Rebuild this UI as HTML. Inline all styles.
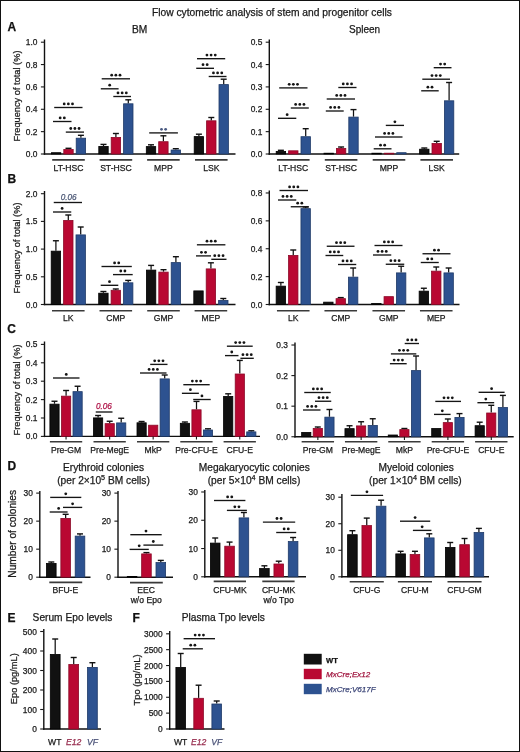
<!DOCTYPE html>
<html><head><meta charset="utf-8"><style>
html,body{margin:0;padding:0;background:#fff;}
.wrap{position:relative;width:520px;height:752px;overflow:hidden;box-sizing:border-box;border:1px solid #111;background:#fff;}
svg{position:absolute;left:-1px;top:-1px;}
text{font-family:"Liberation Sans", sans-serif;stroke-width:0.25px;paint-order:stroke;}
svg{filter:blur(0.3px);}
</style></head><body><div class="wrap">
<svg width="520" height="752" viewBox="0 0 520 752">
<text x="152.00" y="15.60" font-size="10.26" text-anchor="start" fill="#1a1a1a" stroke="#1a1a1a" font-weight="normal" font-style="normal">Flow cytometric analysis of stem and progenitor cells</text>
<text x="7.40" y="31.10" font-size="12" text-anchor="start" fill="#111" stroke="#111" font-weight="bold" font-style="normal">A</text>
<text x="7.60" y="182.50" font-size="12" text-anchor="start" fill="#111" stroke="#111" font-weight="bold" font-style="normal">B</text>
<text x="7.30" y="333.10" font-size="12" text-anchor="start" fill="#111" stroke="#111" font-weight="bold" font-style="normal">C</text>
<text x="7.60" y="469.90" font-size="12" text-anchor="start" fill="#111" stroke="#111" font-weight="bold" font-style="normal">D</text>
<text x="7.60" y="622.30" font-size="12" text-anchor="start" fill="#111" stroke="#111" font-weight="bold" font-style="normal">E</text>
<text x="132.60" y="622.30" font-size="12" text-anchor="start" fill="#111" stroke="#111" font-weight="bold" font-style="normal">F</text>
<text x="139.70" y="33.10" font-size="10.2" text-anchor="middle" fill="#1a1a1a" stroke="#1a1a1a" font-weight="normal" font-style="normal">BM</text>
<text x="364.60" y="33.00" font-size="10.0" text-anchor="middle" fill="#1a1a1a" stroke="#1a1a1a" font-weight="normal" font-style="normal">Spleen</text>
<text x="17.20" y="96.00" font-size="9.25" text-anchor="middle" fill="#1a1a1a" stroke="#1a1a1a" font-weight="normal" font-style="normal" transform="rotate(-90 17.2 96)" dominant-baseline="central">Frequency of total (%)</text>
<line x1="44.50" y1="39.50" x2="44.50" y2="154.70" stroke="#111" stroke-width="1.4"/>
<line x1="43.80" y1="154.00" x2="235.50" y2="154.00" stroke="#111" stroke-width="1.4"/>
<line x1="40.90" y1="42.20" x2="44.50" y2="42.20" stroke="#1a1a1a" stroke-width="1.1"/>
<text x="37.50" y="45.20" font-size="8.4" text-anchor="end" fill="#1a1a1a" stroke="#1a1a1a" font-weight="normal" font-style="normal">1.0</text>
<line x1="40.90" y1="64.56" x2="44.50" y2="64.56" stroke="#1a1a1a" stroke-width="1.1"/>
<text x="37.50" y="67.56" font-size="8.4" text-anchor="end" fill="#1a1a1a" stroke="#1a1a1a" font-weight="normal" font-style="normal">0.8</text>
<line x1="40.90" y1="86.92" x2="44.50" y2="86.92" stroke="#1a1a1a" stroke-width="1.1"/>
<text x="37.50" y="89.92" font-size="8.4" text-anchor="end" fill="#1a1a1a" stroke="#1a1a1a" font-weight="normal" font-style="normal">0.6</text>
<line x1="40.90" y1="109.28" x2="44.50" y2="109.28" stroke="#1a1a1a" stroke-width="1.1"/>
<text x="37.50" y="112.28" font-size="8.4" text-anchor="end" fill="#1a1a1a" stroke="#1a1a1a" font-weight="normal" font-style="normal">0.4</text>
<line x1="40.90" y1="131.64" x2="44.50" y2="131.64" stroke="#1a1a1a" stroke-width="1.1"/>
<text x="37.50" y="134.64" font-size="8.4" text-anchor="end" fill="#1a1a1a" stroke="#1a1a1a" font-weight="normal" font-style="normal">0.2</text>
<line x1="40.90" y1="154.00" x2="44.50" y2="154.00" stroke="#1a1a1a" stroke-width="1.1"/>
<text x="37.50" y="157.00" font-size="8.4" text-anchor="end" fill="#1a1a1a" stroke="#1a1a1a" font-weight="normal" font-style="normal">0.0</text>
<rect x="51.40" y="152.70" width="9.40" height="1.30" fill="#111111" stroke="#000000" stroke-width="0.8"/>
<line x1="68.50" y1="149.00" x2="68.50" y2="148.30" stroke="#111" stroke-width="1.25"/>
<line x1="65.50" y1="148.30" x2="71.50" y2="148.30" stroke="#111" stroke-width="1.4"/>
<rect x="63.80" y="149.40" width="9.40" height="4.60" fill="#b90832" stroke="#8c0a28" stroke-width="0.8"/>
<line x1="80.90" y1="137.80" x2="80.90" y2="135.30" stroke="#111" stroke-width="1.25"/>
<line x1="77.90" y1="135.30" x2="83.90" y2="135.30" stroke="#111" stroke-width="1.4"/>
<rect x="76.20" y="138.20" width="9.40" height="15.80" fill="#2d5290" stroke="#1f3a68" stroke-width="0.8"/>
<line x1="103.50" y1="146.00" x2="103.50" y2="144.40" stroke="#111" stroke-width="1.25"/>
<line x1="100.50" y1="144.40" x2="106.50" y2="144.40" stroke="#111" stroke-width="1.4"/>
<rect x="98.80" y="146.40" width="9.40" height="7.60" fill="#111111" stroke="#000000" stroke-width="0.8"/>
<line x1="115.90" y1="137.00" x2="115.90" y2="133.50" stroke="#111" stroke-width="1.25"/>
<line x1="112.90" y1="133.50" x2="118.90" y2="133.50" stroke="#111" stroke-width="1.4"/>
<rect x="111.20" y="137.40" width="9.40" height="16.60" fill="#b90832" stroke="#8c0a28" stroke-width="0.8"/>
<line x1="128.30" y1="103.40" x2="128.30" y2="99.80" stroke="#111" stroke-width="1.25"/>
<line x1="125.30" y1="99.80" x2="131.30" y2="99.80" stroke="#111" stroke-width="1.4"/>
<rect x="123.60" y="103.80" width="9.40" height="50.20" fill="#2d5290" stroke="#1f3a68" stroke-width="0.8"/>
<line x1="151.00" y1="146.20" x2="151.00" y2="144.80" stroke="#111" stroke-width="1.25"/>
<line x1="148.00" y1="144.80" x2="154.00" y2="144.80" stroke="#111" stroke-width="1.4"/>
<rect x="146.30" y="146.60" width="9.40" height="7.40" fill="#111111" stroke="#000000" stroke-width="0.8"/>
<line x1="163.40" y1="141.30" x2="163.40" y2="135.80" stroke="#111" stroke-width="1.25"/>
<line x1="160.40" y1="135.80" x2="166.40" y2="135.80" stroke="#111" stroke-width="1.4"/>
<rect x="158.70" y="141.70" width="9.40" height="12.30" fill="#b90832" stroke="#8c0a28" stroke-width="0.8"/>
<line x1="175.80" y1="149.60" x2="175.80" y2="148.70" stroke="#111" stroke-width="1.25"/>
<line x1="172.80" y1="148.70" x2="178.80" y2="148.70" stroke="#111" stroke-width="1.4"/>
<rect x="171.10" y="150.00" width="9.40" height="4.00" fill="#2d5290" stroke="#1f3a68" stroke-width="0.8"/>
<line x1="198.90" y1="136.20" x2="198.90" y2="134.20" stroke="#111" stroke-width="1.25"/>
<line x1="195.90" y1="134.20" x2="201.90" y2="134.20" stroke="#111" stroke-width="1.4"/>
<rect x="194.20" y="136.60" width="9.40" height="17.40" fill="#111111" stroke="#000000" stroke-width="0.8"/>
<line x1="211.30" y1="120.40" x2="211.30" y2="117.50" stroke="#111" stroke-width="1.25"/>
<line x1="208.30" y1="117.50" x2="214.30" y2="117.50" stroke="#111" stroke-width="1.4"/>
<rect x="206.60" y="120.80" width="9.40" height="33.20" fill="#b90832" stroke="#8c0a28" stroke-width="0.8"/>
<line x1="223.70" y1="84.20" x2="223.70" y2="79.20" stroke="#111" stroke-width="1.25"/>
<line x1="220.70" y1="79.20" x2="226.70" y2="79.20" stroke="#111" stroke-width="1.4"/>
<rect x="219.00" y="84.60" width="9.40" height="69.40" fill="#2d5290" stroke="#1f3a68" stroke-width="0.8"/>
<line x1="54.20" y1="107.50" x2="82.50" y2="107.50" stroke="#151515" stroke-width="1.35"/>
<circle cx="64.20" cy="103.90" r="1.4" fill="#151515"/>
<circle cx="68.35" cy="103.90" r="1.4" fill="#151515"/>
<circle cx="72.50" cy="103.90" r="1.4" fill="#151515"/>
<line x1="53.00" y1="121.50" x2="71.50" y2="121.50" stroke="#151515" stroke-width="1.35"/>
<circle cx="60.17" cy="117.90" r="1.4" fill="#151515"/>
<circle cx="64.33" cy="117.90" r="1.4" fill="#151515"/>
<line x1="65.80" y1="132.10" x2="84.00" y2="132.10" stroke="#151515" stroke-width="1.35"/>
<circle cx="70.75" cy="128.50" r="1.4" fill="#151515"/>
<circle cx="74.90" cy="128.50" r="1.4" fill="#151515"/>
<circle cx="79.05" cy="128.50" r="1.4" fill="#151515"/>
<line x1="101.70" y1="78.80" x2="130.00" y2="78.80" stroke="#151515" stroke-width="1.35"/>
<circle cx="111.70" cy="75.20" r="1.4" fill="#151515"/>
<circle cx="115.85" cy="75.20" r="1.4" fill="#151515"/>
<circle cx="120.00" cy="75.20" r="1.4" fill="#151515"/>
<line x1="100.80" y1="88.80" x2="118.60" y2="88.80" stroke="#151515" stroke-width="1.35"/>
<circle cx="109.70" cy="85.20" r="1.4" fill="#151515"/>
<line x1="113.30" y1="96.50" x2="131.00" y2="96.50" stroke="#151515" stroke-width="1.35"/>
<circle cx="118.00" cy="92.90" r="1.4" fill="#151515"/>
<circle cx="122.15" cy="92.90" r="1.4" fill="#151515"/>
<circle cx="126.30" cy="92.90" r="1.4" fill="#151515"/>
<line x1="197.00" y1="58.70" x2="225.20" y2="58.70" stroke="#151515" stroke-width="1.35"/>
<circle cx="206.95" cy="55.10" r="1.4" fill="#151515"/>
<circle cx="211.10" cy="55.10" r="1.4" fill="#151515"/>
<circle cx="215.25" cy="55.10" r="1.4" fill="#151515"/>
<line x1="196.20" y1="68.30" x2="214.00" y2="68.30" stroke="#151515" stroke-width="1.35"/>
<circle cx="203.03" cy="64.70" r="1.4" fill="#151515"/>
<circle cx="207.17" cy="64.70" r="1.4" fill="#151515"/>
<line x1="208.70" y1="76.50" x2="226.50" y2="76.50" stroke="#151515" stroke-width="1.35"/>
<circle cx="213.45" cy="72.90" r="1.4" fill="#151515"/>
<circle cx="217.60" cy="72.90" r="1.4" fill="#151515"/>
<circle cx="221.75" cy="72.90" r="1.4" fill="#151515"/>
<line x1="149.20" y1="132.90" x2="177.90" y2="132.90" stroke="#151515" stroke-width="1.35"/>
<circle cx="161.48" cy="129.30" r="1.4" fill="#4a5a82"/>
<circle cx="165.62" cy="129.30" r="1.4" fill="#4a5a82"/>
<line x1="52.20" y1="159.90" x2="84.80" y2="159.90" stroke="#3a3a3a" stroke-width="1.6"/>
<text x="68.50" y="170.90" font-size="8.6" text-anchor="middle" fill="#1a1a1a" stroke="#1a1a1a" font-weight="normal" font-style="normal">LT-HSC</text>
<line x1="99.60" y1="159.90" x2="132.20" y2="159.90" stroke="#3a3a3a" stroke-width="1.6"/>
<text x="115.90" y="170.90" font-size="8.6" text-anchor="middle" fill="#1a1a1a" stroke="#1a1a1a" font-weight="normal" font-style="normal">ST-HSC</text>
<line x1="147.10" y1="159.90" x2="179.70" y2="159.90" stroke="#3a3a3a" stroke-width="1.6"/>
<text x="163.40" y="170.90" font-size="8.6" text-anchor="middle" fill="#1a1a1a" stroke="#1a1a1a" font-weight="normal" font-style="normal">MPP</text>
<line x1="195.00" y1="159.90" x2="227.60" y2="159.90" stroke="#3a3a3a" stroke-width="1.6"/>
<text x="211.30" y="170.90" font-size="8.6" text-anchor="middle" fill="#1a1a1a" stroke="#1a1a1a" font-weight="normal" font-style="normal">LSK</text>
<line x1="269.30" y1="39.50" x2="269.30" y2="154.70" stroke="#111" stroke-width="1.4"/>
<line x1="268.60" y1="154.00" x2="459.20" y2="154.00" stroke="#111" stroke-width="1.4"/>
<line x1="265.70" y1="42.20" x2="269.30" y2="42.20" stroke="#1a1a1a" stroke-width="1.1"/>
<text x="262.30" y="45.20" font-size="8.4" text-anchor="end" fill="#1a1a1a" stroke="#1a1a1a" font-weight="normal" font-style="normal">0.5</text>
<line x1="265.70" y1="64.56" x2="269.30" y2="64.56" stroke="#1a1a1a" stroke-width="1.1"/>
<text x="262.30" y="67.56" font-size="8.4" text-anchor="end" fill="#1a1a1a" stroke="#1a1a1a" font-weight="normal" font-style="normal">0.4</text>
<line x1="265.70" y1="86.92" x2="269.30" y2="86.92" stroke="#1a1a1a" stroke-width="1.1"/>
<text x="262.30" y="89.92" font-size="8.4" text-anchor="end" fill="#1a1a1a" stroke="#1a1a1a" font-weight="normal" font-style="normal">0.3</text>
<line x1="265.70" y1="109.28" x2="269.30" y2="109.28" stroke="#1a1a1a" stroke-width="1.1"/>
<text x="262.30" y="112.28" font-size="8.4" text-anchor="end" fill="#1a1a1a" stroke="#1a1a1a" font-weight="normal" font-style="normal">0.2</text>
<line x1="265.70" y1="131.64" x2="269.30" y2="131.64" stroke="#1a1a1a" stroke-width="1.1"/>
<text x="262.30" y="134.64" font-size="8.4" text-anchor="end" fill="#1a1a1a" stroke="#1a1a1a" font-weight="normal" font-style="normal">0.1</text>
<line x1="265.70" y1="154.00" x2="269.30" y2="154.00" stroke="#1a1a1a" stroke-width="1.1"/>
<text x="262.30" y="157.00" font-size="8.4" text-anchor="end" fill="#1a1a1a" stroke="#1a1a1a" font-weight="normal" font-style="normal">0.0</text>
<line x1="280.90" y1="151.00" x2="280.90" y2="150.30" stroke="#111" stroke-width="1.25"/>
<line x1="277.90" y1="150.30" x2="283.90" y2="150.30" stroke="#111" stroke-width="1.4"/>
<rect x="276.20" y="151.40" width="9.40" height="2.60" fill="#111111" stroke="#000000" stroke-width="0.8"/>
<rect x="288.60" y="150.80" width="9.40" height="3.20" fill="#b90832" stroke="#8c0a28" stroke-width="0.8"/>
<line x1="305.70" y1="136.30" x2="305.70" y2="128.70" stroke="#111" stroke-width="1.25"/>
<line x1="302.70" y1="128.70" x2="308.70" y2="128.70" stroke="#111" stroke-width="1.4"/>
<rect x="301.00" y="136.70" width="9.40" height="17.30" fill="#2d5290" stroke="#1f3a68" stroke-width="0.8"/>
<rect x="324.00" y="153.20" width="9.40" height="0.80" fill="#111111" stroke="#000000" stroke-width="0.8"/>
<line x1="341.10" y1="148.00" x2="341.10" y2="147.00" stroke="#111" stroke-width="1.25"/>
<line x1="338.10" y1="147.00" x2="344.10" y2="147.00" stroke="#111" stroke-width="1.4"/>
<rect x="336.40" y="148.40" width="9.40" height="5.60" fill="#b90832" stroke="#8c0a28" stroke-width="0.8"/>
<line x1="353.50" y1="116.70" x2="353.50" y2="109.60" stroke="#111" stroke-width="1.25"/>
<line x1="350.50" y1="109.60" x2="356.50" y2="109.60" stroke="#111" stroke-width="1.4"/>
<rect x="348.80" y="117.10" width="9.40" height="36.90" fill="#2d5290" stroke="#1f3a68" stroke-width="0.8"/>
<rect x="371.90" y="153.20" width="9.40" height="0.80" fill="#111111" stroke="#000000" stroke-width="0.8"/>
<rect x="384.30" y="153.20" width="9.40" height="0.80" fill="#b90832" stroke="#8c0a28" stroke-width="0.8"/>
<rect x="396.70" y="152.70" width="9.40" height="1.30" fill="#2d5290" stroke="#1f3a68" stroke-width="0.8"/>
<line x1="424.30" y1="148.80" x2="424.30" y2="148.00" stroke="#111" stroke-width="1.25"/>
<line x1="421.30" y1="148.00" x2="427.30" y2="148.00" stroke="#111" stroke-width="1.4"/>
<rect x="419.60" y="149.20" width="9.40" height="4.80" fill="#111111" stroke="#000000" stroke-width="0.8"/>
<line x1="436.70" y1="143.00" x2="436.70" y2="141.30" stroke="#111" stroke-width="1.25"/>
<line x1="433.70" y1="141.30" x2="439.70" y2="141.30" stroke="#111" stroke-width="1.4"/>
<rect x="432.00" y="143.40" width="9.40" height="10.60" fill="#b90832" stroke="#8c0a28" stroke-width="0.8"/>
<line x1="449.10" y1="100.40" x2="449.10" y2="82.50" stroke="#111" stroke-width="1.25"/>
<line x1="446.10" y1="82.50" x2="452.10" y2="82.50" stroke="#111" stroke-width="1.4"/>
<rect x="444.40" y="100.80" width="9.40" height="53.20" fill="#2d5290" stroke="#1f3a68" stroke-width="0.8"/>
<line x1="279.20" y1="87.90" x2="307.50" y2="87.90" stroke="#151515" stroke-width="1.35"/>
<circle cx="289.20" cy="84.30" r="1.4" fill="#151515"/>
<circle cx="293.35" cy="84.30" r="1.4" fill="#151515"/>
<circle cx="297.50" cy="84.30" r="1.4" fill="#151515"/>
<line x1="290.80" y1="108.00" x2="308.80" y2="108.00" stroke="#151515" stroke-width="1.35"/>
<circle cx="295.65" cy="104.40" r="1.4" fill="#151515"/>
<circle cx="299.80" cy="104.40" r="1.4" fill="#151515"/>
<circle cx="303.95" cy="104.40" r="1.4" fill="#151515"/>
<line x1="278.00" y1="118.30" x2="296.30" y2="118.30" stroke="#151515" stroke-width="1.35"/>
<circle cx="287.15" cy="114.70" r="1.4" fill="#151515"/>
<line x1="338.30" y1="87.50" x2="356.50" y2="87.50" stroke="#151515" stroke-width="1.35"/>
<circle cx="343.25" cy="83.90" r="1.4" fill="#151515"/>
<circle cx="347.40" cy="83.90" r="1.4" fill="#151515"/>
<circle cx="351.55" cy="83.90" r="1.4" fill="#151515"/>
<line x1="326.70" y1="99.00" x2="355.00" y2="99.00" stroke="#151515" stroke-width="1.35"/>
<circle cx="336.70" cy="95.40" r="1.4" fill="#151515"/>
<circle cx="340.85" cy="95.40" r="1.4" fill="#151515"/>
<circle cx="345.00" cy="95.40" r="1.4" fill="#151515"/>
<line x1="325.80" y1="111.00" x2="343.70" y2="111.00" stroke="#151515" stroke-width="1.35"/>
<circle cx="330.60" cy="107.40" r="1.4" fill="#151515"/>
<circle cx="334.75" cy="107.40" r="1.4" fill="#151515"/>
<circle cx="338.90" cy="107.40" r="1.4" fill="#151515"/>
<line x1="385.80" y1="125.40" x2="404.00" y2="125.40" stroke="#151515" stroke-width="1.35"/>
<circle cx="394.90" cy="121.80" r="1.4" fill="#151515"/>
<line x1="375.00" y1="137.00" x2="402.50" y2="137.00" stroke="#151515" stroke-width="1.35"/>
<circle cx="384.60" cy="133.40" r="1.4" fill="#151515"/>
<circle cx="388.75" cy="133.40" r="1.4" fill="#151515"/>
<circle cx="392.90" cy="133.40" r="1.4" fill="#151515"/>
<line x1="373.70" y1="148.80" x2="391.50" y2="148.80" stroke="#151515" stroke-width="1.35"/>
<circle cx="380.53" cy="145.20" r="1.4" fill="#151515"/>
<circle cx="384.68" cy="145.20" r="1.4" fill="#151515"/>
<line x1="433.70" y1="67.70" x2="451.50" y2="67.70" stroke="#151515" stroke-width="1.35"/>
<circle cx="440.53" cy="64.10" r="1.4" fill="#151515"/>
<circle cx="444.68" cy="64.10" r="1.4" fill="#151515"/>
<line x1="422.30" y1="79.20" x2="450.00" y2="79.20" stroke="#151515" stroke-width="1.35"/>
<circle cx="432.00" cy="75.60" r="1.4" fill="#151515"/>
<circle cx="436.15" cy="75.60" r="1.4" fill="#151515"/>
<circle cx="440.30" cy="75.60" r="1.4" fill="#151515"/>
<line x1="421.20" y1="90.80" x2="438.70" y2="90.80" stroke="#151515" stroke-width="1.35"/>
<circle cx="427.88" cy="87.20" r="1.4" fill="#151515"/>
<circle cx="432.02" cy="87.20" r="1.4" fill="#151515"/>
<line x1="277.00" y1="159.90" x2="309.60" y2="159.90" stroke="#3a3a3a" stroke-width="1.6"/>
<text x="293.30" y="170.90" font-size="8.6" text-anchor="middle" fill="#1a1a1a" stroke="#1a1a1a" font-weight="normal" font-style="normal">LT-HSC</text>
<line x1="324.80" y1="159.90" x2="357.40" y2="159.90" stroke="#3a3a3a" stroke-width="1.6"/>
<text x="341.10" y="170.90" font-size="8.6" text-anchor="middle" fill="#1a1a1a" stroke="#1a1a1a" font-weight="normal" font-style="normal">ST-HSC</text>
<line x1="372.70" y1="159.90" x2="405.30" y2="159.90" stroke="#3a3a3a" stroke-width="1.6"/>
<text x="389.00" y="170.90" font-size="8.6" text-anchor="middle" fill="#1a1a1a" stroke="#1a1a1a" font-weight="normal" font-style="normal">MPP</text>
<line x1="420.40" y1="159.90" x2="453.00" y2="159.90" stroke="#3a3a3a" stroke-width="1.6"/>
<text x="436.70" y="170.90" font-size="8.6" text-anchor="middle" fill="#1a1a1a" stroke="#1a1a1a" font-weight="normal" font-style="normal">LSK</text>
<text x="17.20" y="248.00" font-size="9.25" text-anchor="middle" fill="#1a1a1a" stroke="#1a1a1a" font-weight="normal" font-style="normal" transform="rotate(-90 17.2 248)" dominant-baseline="central">Frequency of total (%)</text>
<line x1="44.50" y1="191.00" x2="44.50" y2="305.20" stroke="#111" stroke-width="1.4"/>
<line x1="43.80" y1="304.50" x2="235.50" y2="304.50" stroke="#111" stroke-width="1.4"/>
<line x1="40.90" y1="193.70" x2="44.50" y2="193.70" stroke="#1a1a1a" stroke-width="1.1"/>
<text x="37.50" y="196.70" font-size="8.4" text-anchor="end" fill="#1a1a1a" stroke="#1a1a1a" font-weight="normal" font-style="normal">2.0</text>
<line x1="40.90" y1="221.40" x2="44.50" y2="221.40" stroke="#1a1a1a" stroke-width="1.1"/>
<text x="37.50" y="224.40" font-size="8.4" text-anchor="end" fill="#1a1a1a" stroke="#1a1a1a" font-weight="normal" font-style="normal">1.5</text>
<line x1="40.90" y1="249.10" x2="44.50" y2="249.10" stroke="#1a1a1a" stroke-width="1.1"/>
<text x="37.50" y="252.10" font-size="8.4" text-anchor="end" fill="#1a1a1a" stroke="#1a1a1a" font-weight="normal" font-style="normal">1.0</text>
<line x1="40.90" y1="276.80" x2="44.50" y2="276.80" stroke="#1a1a1a" stroke-width="1.1"/>
<text x="37.50" y="279.80" font-size="8.4" text-anchor="end" fill="#1a1a1a" stroke="#1a1a1a" font-weight="normal" font-style="normal">0.5</text>
<line x1="40.90" y1="304.50" x2="44.50" y2="304.50" stroke="#1a1a1a" stroke-width="1.1"/>
<text x="37.50" y="307.50" font-size="8.4" text-anchor="end" fill="#1a1a1a" stroke="#1a1a1a" font-weight="normal" font-style="normal">0.0</text>
<line x1="55.90" y1="250.75" x2="55.90" y2="240.75" stroke="#111" stroke-width="1.25"/>
<line x1="52.90" y1="240.75" x2="58.90" y2="240.75" stroke="#111" stroke-width="1.4"/>
<rect x="51.20" y="251.15" width="9.40" height="53.35" fill="#111111" stroke="#000000" stroke-width="0.8"/>
<line x1="68.30" y1="220.00" x2="68.30" y2="215.00" stroke="#111" stroke-width="1.25"/>
<line x1="65.30" y1="215.00" x2="71.30" y2="215.00" stroke="#111" stroke-width="1.4"/>
<rect x="63.60" y="220.40" width="9.40" height="84.10" fill="#b90832" stroke="#8c0a28" stroke-width="0.8"/>
<line x1="80.70" y1="234.50" x2="80.70" y2="227.00" stroke="#111" stroke-width="1.25"/>
<line x1="77.70" y1="227.00" x2="83.70" y2="227.00" stroke="#111" stroke-width="1.4"/>
<rect x="76.00" y="234.90" width="9.40" height="69.60" fill="#2d5290" stroke="#1f3a68" stroke-width="0.8"/>
<line x1="103.40" y1="292.80" x2="103.40" y2="291.50" stroke="#111" stroke-width="1.25"/>
<line x1="100.40" y1="291.50" x2="106.40" y2="291.50" stroke="#111" stroke-width="1.4"/>
<rect x="98.70" y="293.20" width="9.40" height="11.30" fill="#111111" stroke="#000000" stroke-width="0.8"/>
<line x1="115.80" y1="289.90" x2="115.80" y2="289.00" stroke="#111" stroke-width="1.25"/>
<line x1="112.80" y1="289.00" x2="118.80" y2="289.00" stroke="#111" stroke-width="1.4"/>
<rect x="111.10" y="290.30" width="9.40" height="14.20" fill="#b90832" stroke="#8c0a28" stroke-width="0.8"/>
<line x1="128.20" y1="282.40" x2="128.20" y2="280.40" stroke="#111" stroke-width="1.25"/>
<line x1="125.20" y1="280.40" x2="131.20" y2="280.40" stroke="#111" stroke-width="1.4"/>
<rect x="123.50" y="282.80" width="9.40" height="21.70" fill="#2d5290" stroke="#1f3a68" stroke-width="0.8"/>
<line x1="151.10" y1="269.70" x2="151.10" y2="265.40" stroke="#111" stroke-width="1.25"/>
<line x1="148.10" y1="265.40" x2="154.10" y2="265.40" stroke="#111" stroke-width="1.4"/>
<rect x="146.40" y="270.10" width="9.40" height="34.40" fill="#111111" stroke="#000000" stroke-width="0.8"/>
<line x1="163.50" y1="271.70" x2="163.50" y2="269.70" stroke="#111" stroke-width="1.25"/>
<line x1="160.50" y1="269.70" x2="166.50" y2="269.70" stroke="#111" stroke-width="1.4"/>
<rect x="158.80" y="272.10" width="9.40" height="32.40" fill="#b90832" stroke="#8c0a28" stroke-width="0.8"/>
<line x1="175.90" y1="262.20" x2="175.90" y2="256.70" stroke="#111" stroke-width="1.25"/>
<line x1="172.90" y1="256.70" x2="178.90" y2="256.70" stroke="#111" stroke-width="1.4"/>
<rect x="171.20" y="262.60" width="9.40" height="41.90" fill="#2d5290" stroke="#1f3a68" stroke-width="0.8"/>
<rect x="193.80" y="290.90" width="9.40" height="13.60" fill="#111111" stroke="#000000" stroke-width="0.8"/>
<line x1="210.90" y1="268.50" x2="210.90" y2="262.80" stroke="#111" stroke-width="1.25"/>
<line x1="207.90" y1="262.80" x2="213.90" y2="262.80" stroke="#111" stroke-width="1.4"/>
<rect x="206.20" y="268.90" width="9.40" height="35.60" fill="#b90832" stroke="#8c0a28" stroke-width="0.8"/>
<line x1="223.30" y1="300.00" x2="223.30" y2="298.50" stroke="#111" stroke-width="1.25"/>
<line x1="220.30" y1="298.50" x2="226.30" y2="298.50" stroke="#111" stroke-width="1.4"/>
<rect x="218.60" y="300.40" width="9.40" height="4.10" fill="#2d5290" stroke="#1f3a68" stroke-width="0.8"/>
<line x1="53.75" y1="202.50" x2="82.00" y2="202.50" stroke="#151515" stroke-width="1.35"/>
<text x="68.60" y="199.90" font-size="8.2" text-anchor="middle" fill="#4f5b78" stroke="#4f5b78" font-weight="normal" font-style="italic">0.06</text>
<line x1="53.00" y1="212.00" x2="71.25" y2="212.00" stroke="#151515" stroke-width="1.35"/>
<circle cx="62.12" cy="208.40" r="1.4" fill="#151515"/>
<line x1="101.50" y1="266.50" x2="131.80" y2="266.50" stroke="#151515" stroke-width="1.35"/>
<circle cx="114.58" cy="262.90" r="1.4" fill="#151515"/>
<circle cx="118.73" cy="262.90" r="1.4" fill="#151515"/>
<line x1="113.00" y1="274.60" x2="132.70" y2="274.60" stroke="#151515" stroke-width="1.35"/>
<circle cx="120.77" cy="271.00" r="1.4" fill="#151515"/>
<circle cx="124.92" cy="271.00" r="1.4" fill="#151515"/>
<line x1="100.70" y1="285.30" x2="118.30" y2="285.30" stroke="#151515" stroke-width="1.35"/>
<circle cx="109.50" cy="281.70" r="1.4" fill="#151515"/>
<line x1="196.90" y1="244.80" x2="225.40" y2="244.80" stroke="#151515" stroke-width="1.35"/>
<circle cx="207.00" cy="241.20" r="1.4" fill="#151515"/>
<circle cx="211.15" cy="241.20" r="1.4" fill="#151515"/>
<circle cx="215.30" cy="241.20" r="1.4" fill="#151515"/>
<line x1="196.00" y1="255.90" x2="211.00" y2="255.90" stroke="#151515" stroke-width="1.35"/>
<circle cx="201.43" cy="252.30" r="1.4" fill="#151515"/>
<circle cx="205.57" cy="252.30" r="1.4" fill="#151515"/>
<line x1="211.30" y1="259.30" x2="226.50" y2="259.30" stroke="#151515" stroke-width="1.35"/>
<circle cx="214.75" cy="255.70" r="1.4" fill="#151515"/>
<circle cx="218.90" cy="255.70" r="1.4" fill="#151515"/>
<circle cx="223.05" cy="255.70" r="1.4" fill="#151515"/>
<line x1="52.00" y1="310.70" x2="84.60" y2="310.70" stroke="#3a3a3a" stroke-width="1.6"/>
<text x="68.30" y="321.30" font-size="8.6" text-anchor="middle" fill="#1a1a1a" stroke="#1a1a1a" font-weight="normal" font-style="normal">LK</text>
<line x1="99.50" y1="310.70" x2="132.10" y2="310.70" stroke="#3a3a3a" stroke-width="1.6"/>
<text x="115.80" y="321.30" font-size="8.6" text-anchor="middle" fill="#1a1a1a" stroke="#1a1a1a" font-weight="normal" font-style="normal">CMP</text>
<line x1="147.20" y1="310.70" x2="179.80" y2="310.70" stroke="#3a3a3a" stroke-width="1.6"/>
<text x="163.50" y="321.30" font-size="8.6" text-anchor="middle" fill="#1a1a1a" stroke="#1a1a1a" font-weight="normal" font-style="normal">GMP</text>
<line x1="194.60" y1="310.70" x2="227.20" y2="310.70" stroke="#3a3a3a" stroke-width="1.6"/>
<text x="210.90" y="321.30" font-size="8.6" text-anchor="middle" fill="#1a1a1a" stroke="#1a1a1a" font-weight="normal" font-style="normal">MEP</text>
<line x1="269.30" y1="190.50" x2="269.30" y2="305.20" stroke="#111" stroke-width="1.4"/>
<line x1="268.60" y1="304.50" x2="459.50" y2="304.50" stroke="#111" stroke-width="1.4"/>
<line x1="265.70" y1="192.98" x2="269.30" y2="192.98" stroke="#1a1a1a" stroke-width="1.1"/>
<text x="262.30" y="195.98" font-size="8.4" text-anchor="end" fill="#1a1a1a" stroke="#1a1a1a" font-weight="normal" font-style="normal">0.8</text>
<line x1="265.70" y1="220.86" x2="269.30" y2="220.86" stroke="#1a1a1a" stroke-width="1.1"/>
<text x="262.30" y="223.86" font-size="8.4" text-anchor="end" fill="#1a1a1a" stroke="#1a1a1a" font-weight="normal" font-style="normal">0.6</text>
<line x1="265.70" y1="248.74" x2="269.30" y2="248.74" stroke="#1a1a1a" stroke-width="1.1"/>
<text x="262.30" y="251.74" font-size="8.4" text-anchor="end" fill="#1a1a1a" stroke="#1a1a1a" font-weight="normal" font-style="normal">0.4</text>
<line x1="265.70" y1="276.62" x2="269.30" y2="276.62" stroke="#1a1a1a" stroke-width="1.1"/>
<text x="262.30" y="279.62" font-size="8.4" text-anchor="end" fill="#1a1a1a" stroke="#1a1a1a" font-weight="normal" font-style="normal">0.2</text>
<line x1="265.70" y1="304.50" x2="269.30" y2="304.50" stroke="#1a1a1a" stroke-width="1.1"/>
<text x="262.30" y="307.50" font-size="8.4" text-anchor="end" fill="#1a1a1a" stroke="#1a1a1a" font-weight="normal" font-style="normal">0.0</text>
<line x1="280.85" y1="285.75" x2="280.85" y2="282.50" stroke="#111" stroke-width="1.25"/>
<line x1="277.85" y1="282.50" x2="283.85" y2="282.50" stroke="#111" stroke-width="1.4"/>
<rect x="276.15" y="286.15" width="9.40" height="18.35" fill="#111111" stroke="#000000" stroke-width="0.8"/>
<line x1="293.25" y1="255.00" x2="293.25" y2="250.00" stroke="#111" stroke-width="1.25"/>
<line x1="290.25" y1="250.00" x2="296.25" y2="250.00" stroke="#111" stroke-width="1.4"/>
<rect x="288.55" y="255.40" width="9.40" height="49.10" fill="#b90832" stroke="#8c0a28" stroke-width="0.8"/>
<line x1="305.65" y1="208.25" x2="305.65" y2="207.00" stroke="#111" stroke-width="1.25"/>
<line x1="302.65" y1="207.00" x2="308.65" y2="207.00" stroke="#111" stroke-width="1.4"/>
<rect x="300.95" y="208.65" width="9.40" height="95.85" fill="#2d5290" stroke="#1f3a68" stroke-width="0.8"/>
<rect x="323.65" y="302.15" width="9.40" height="2.35" fill="#111111" stroke="#000000" stroke-width="0.8"/>
<line x1="340.75" y1="298.25" x2="340.75" y2="297.60" stroke="#111" stroke-width="1.25"/>
<line x1="337.75" y1="297.60" x2="343.75" y2="297.60" stroke="#111" stroke-width="1.4"/>
<rect x="336.05" y="298.65" width="9.40" height="5.85" fill="#b90832" stroke="#8c0a28" stroke-width="0.8"/>
<line x1="353.15" y1="276.75" x2="353.15" y2="268.00" stroke="#111" stroke-width="1.25"/>
<line x1="350.15" y1="268.00" x2="356.15" y2="268.00" stroke="#111" stroke-width="1.4"/>
<rect x="348.45" y="277.15" width="9.40" height="27.35" fill="#2d5290" stroke="#1f3a68" stroke-width="0.8"/>
<rect x="371.65" y="303.40" width="9.40" height="1.10" fill="#111111" stroke="#000000" stroke-width="0.8"/>
<rect x="384.05" y="296.65" width="9.40" height="7.85" fill="#b90832" stroke="#8c0a28" stroke-width="0.8"/>
<line x1="401.15" y1="272.50" x2="401.15" y2="266.25" stroke="#111" stroke-width="1.25"/>
<line x1="398.15" y1="266.25" x2="404.15" y2="266.25" stroke="#111" stroke-width="1.4"/>
<rect x="396.45" y="272.90" width="9.40" height="31.60" fill="#2d5290" stroke="#1f3a68" stroke-width="0.8"/>
<line x1="423.85" y1="290.75" x2="423.85" y2="288.25" stroke="#111" stroke-width="1.25"/>
<line x1="420.85" y1="288.25" x2="426.85" y2="288.25" stroke="#111" stroke-width="1.4"/>
<rect x="419.15" y="291.15" width="9.40" height="13.35" fill="#111111" stroke="#000000" stroke-width="0.8"/>
<line x1="436.25" y1="270.75" x2="436.25" y2="267.00" stroke="#111" stroke-width="1.25"/>
<line x1="433.25" y1="267.00" x2="439.25" y2="267.00" stroke="#111" stroke-width="1.4"/>
<rect x="431.55" y="271.15" width="9.40" height="33.35" fill="#b90832" stroke="#8c0a28" stroke-width="0.8"/>
<line x1="448.65" y1="272.50" x2="448.65" y2="268.00" stroke="#111" stroke-width="1.25"/>
<line x1="445.65" y1="268.00" x2="451.65" y2="268.00" stroke="#111" stroke-width="1.4"/>
<rect x="443.95" y="272.90" width="9.40" height="31.60" fill="#2d5290" stroke="#1f3a68" stroke-width="0.8"/>
<line x1="279.50" y1="190.50" x2="308.00" y2="190.50" stroke="#151515" stroke-width="1.35"/>
<circle cx="289.60" cy="186.90" r="1.4" fill="#151515"/>
<circle cx="293.75" cy="186.90" r="1.4" fill="#151515"/>
<circle cx="297.90" cy="186.90" r="1.4" fill="#151515"/>
<line x1="278.00" y1="200.00" x2="296.25" y2="200.00" stroke="#151515" stroke-width="1.35"/>
<circle cx="282.98" cy="196.40" r="1.4" fill="#151515"/>
<circle cx="287.12" cy="196.40" r="1.4" fill="#151515"/>
<circle cx="291.27" cy="196.40" r="1.4" fill="#151515"/>
<line x1="290.75" y1="206.75" x2="308.75" y2="206.75" stroke="#151515" stroke-width="1.35"/>
<circle cx="297.68" cy="203.15" r="1.4" fill="#151515"/>
<circle cx="301.82" cy="203.15" r="1.4" fill="#151515"/>
<line x1="326.75" y1="246.25" x2="354.50" y2="246.25" stroke="#151515" stroke-width="1.35"/>
<circle cx="336.48" cy="242.65" r="1.4" fill="#151515"/>
<circle cx="340.62" cy="242.65" r="1.4" fill="#151515"/>
<circle cx="344.77" cy="242.65" r="1.4" fill="#151515"/>
<line x1="325.50" y1="255.50" x2="343.25" y2="255.50" stroke="#151515" stroke-width="1.35"/>
<circle cx="330.23" cy="251.90" r="1.4" fill="#151515"/>
<circle cx="334.38" cy="251.90" r="1.4" fill="#151515"/>
<circle cx="338.52" cy="251.90" r="1.4" fill="#151515"/>
<line x1="338.00" y1="264.50" x2="356.25" y2="264.50" stroke="#151515" stroke-width="1.35"/>
<circle cx="342.98" cy="260.90" r="1.4" fill="#151515"/>
<circle cx="347.12" cy="260.90" r="1.4" fill="#151515"/>
<circle cx="351.27" cy="260.90" r="1.4" fill="#151515"/>
<line x1="374.50" y1="245.50" x2="402.50" y2="245.50" stroke="#151515" stroke-width="1.35"/>
<circle cx="384.35" cy="241.90" r="1.4" fill="#151515"/>
<circle cx="388.50" cy="241.90" r="1.4" fill="#151515"/>
<circle cx="392.65" cy="241.90" r="1.4" fill="#151515"/>
<line x1="373.00" y1="255.00" x2="391.25" y2="255.00" stroke="#151515" stroke-width="1.35"/>
<circle cx="377.98" cy="251.40" r="1.4" fill="#151515"/>
<circle cx="382.12" cy="251.40" r="1.4" fill="#151515"/>
<circle cx="386.27" cy="251.40" r="1.4" fill="#151515"/>
<line x1="385.75" y1="264.25" x2="404.25" y2="264.25" stroke="#151515" stroke-width="1.35"/>
<circle cx="390.85" cy="260.65" r="1.4" fill="#151515"/>
<circle cx="395.00" cy="260.65" r="1.4" fill="#151515"/>
<circle cx="399.15" cy="260.65" r="1.4" fill="#151515"/>
<line x1="422.50" y1="253.75" x2="450.50" y2="253.75" stroke="#151515" stroke-width="1.35"/>
<circle cx="434.43" cy="250.15" r="1.4" fill="#151515"/>
<circle cx="438.57" cy="250.15" r="1.4" fill="#151515"/>
<line x1="420.75" y1="262.50" x2="438.75" y2="262.50" stroke="#151515" stroke-width="1.35"/>
<circle cx="427.68" cy="258.90" r="1.4" fill="#151515"/>
<circle cx="431.82" cy="258.90" r="1.4" fill="#151515"/>
<line x1="276.95" y1="310.70" x2="309.55" y2="310.70" stroke="#3a3a3a" stroke-width="1.6"/>
<text x="293.25" y="321.30" font-size="8.6" text-anchor="middle" fill="#1a1a1a" stroke="#1a1a1a" font-weight="normal" font-style="normal">LK</text>
<line x1="324.45" y1="310.70" x2="357.05" y2="310.70" stroke="#3a3a3a" stroke-width="1.6"/>
<text x="340.75" y="321.30" font-size="8.6" text-anchor="middle" fill="#1a1a1a" stroke="#1a1a1a" font-weight="normal" font-style="normal">CMP</text>
<line x1="372.45" y1="310.70" x2="405.05" y2="310.70" stroke="#3a3a3a" stroke-width="1.6"/>
<text x="388.75" y="321.30" font-size="8.6" text-anchor="middle" fill="#1a1a1a" stroke="#1a1a1a" font-weight="normal" font-style="normal">GMP</text>
<line x1="419.95" y1="310.70" x2="452.55" y2="310.70" stroke="#3a3a3a" stroke-width="1.6"/>
<text x="436.25" y="321.30" font-size="8.6" text-anchor="middle" fill="#1a1a1a" stroke="#1a1a1a" font-weight="normal" font-style="normal">MEP</text>
<text x="17.20" y="390.00" font-size="9.25" text-anchor="middle" fill="#1a1a1a" stroke="#1a1a1a" font-weight="normal" font-style="normal" transform="rotate(-90 17.2 390)" dominant-baseline="central">Frequency of total (%)</text>
<line x1="44.50" y1="341.50" x2="44.50" y2="437.10" stroke="#111" stroke-width="1.4"/>
<line x1="43.80" y1="436.40" x2="260.00" y2="436.40" stroke="#111" stroke-width="1.4"/>
<line x1="40.90" y1="344.40" x2="44.50" y2="344.40" stroke="#1a1a1a" stroke-width="1.1"/>
<text x="37.50" y="347.40" font-size="8.4" text-anchor="end" fill="#1a1a1a" stroke="#1a1a1a" font-weight="normal" font-style="normal">0.5</text>
<line x1="40.90" y1="362.80" x2="44.50" y2="362.80" stroke="#1a1a1a" stroke-width="1.1"/>
<text x="37.50" y="365.80" font-size="8.4" text-anchor="end" fill="#1a1a1a" stroke="#1a1a1a" font-weight="normal" font-style="normal">0.4</text>
<line x1="40.90" y1="381.20" x2="44.50" y2="381.20" stroke="#1a1a1a" stroke-width="1.1"/>
<text x="37.50" y="384.20" font-size="8.4" text-anchor="end" fill="#1a1a1a" stroke="#1a1a1a" font-weight="normal" font-style="normal">0.3</text>
<line x1="40.90" y1="399.60" x2="44.50" y2="399.60" stroke="#1a1a1a" stroke-width="1.1"/>
<text x="37.50" y="402.60" font-size="8.4" text-anchor="end" fill="#1a1a1a" stroke="#1a1a1a" font-weight="normal" font-style="normal">0.2</text>
<line x1="40.90" y1="418.00" x2="44.50" y2="418.00" stroke="#1a1a1a" stroke-width="1.1"/>
<text x="37.50" y="421.00" font-size="8.4" text-anchor="end" fill="#1a1a1a" stroke="#1a1a1a" font-weight="normal" font-style="normal">0.1</text>
<line x1="40.90" y1="436.40" x2="44.50" y2="436.40" stroke="#1a1a1a" stroke-width="1.1"/>
<text x="37.50" y="439.40" font-size="8.4" text-anchor="end" fill="#1a1a1a" stroke="#1a1a1a" font-weight="normal" font-style="normal">0.0</text>
<line x1="54.50" y1="403.75" x2="54.50" y2="401.25" stroke="#111" stroke-width="1.25"/>
<line x1="51.50" y1="401.25" x2="57.50" y2="401.25" stroke="#111" stroke-width="1.4"/>
<rect x="49.90" y="404.15" width="9.20" height="32.25" fill="#111111" stroke="#000000" stroke-width="0.8"/>
<line x1="66.10" y1="395.75" x2="66.10" y2="390.50" stroke="#111" stroke-width="1.25"/>
<line x1="63.10" y1="390.50" x2="69.10" y2="390.50" stroke="#111" stroke-width="1.4"/>
<rect x="61.50" y="396.15" width="9.20" height="40.25" fill="#b90832" stroke="#8c0a28" stroke-width="0.8"/>
<line x1="77.60" y1="391.25" x2="77.60" y2="386.25" stroke="#111" stroke-width="1.25"/>
<line x1="74.60" y1="386.25" x2="80.60" y2="386.25" stroke="#111" stroke-width="1.4"/>
<rect x="73.00" y="391.65" width="9.20" height="44.75" fill="#2d5290" stroke="#1f3a68" stroke-width="0.8"/>
<line x1="98.10" y1="417.50" x2="98.10" y2="415.50" stroke="#111" stroke-width="1.25"/>
<line x1="95.10" y1="415.50" x2="101.10" y2="415.50" stroke="#111" stroke-width="1.4"/>
<rect x="93.50" y="417.90" width="9.20" height="18.50" fill="#111111" stroke="#000000" stroke-width="0.8"/>
<line x1="109.70" y1="423.25" x2="109.70" y2="421.25" stroke="#111" stroke-width="1.25"/>
<line x1="106.70" y1="421.25" x2="112.70" y2="421.25" stroke="#111" stroke-width="1.4"/>
<rect x="105.10" y="423.65" width="9.20" height="12.75" fill="#b90832" stroke="#8c0a28" stroke-width="0.8"/>
<line x1="121.20" y1="422.50" x2="121.20" y2="418.25" stroke="#111" stroke-width="1.25"/>
<line x1="118.20" y1="418.25" x2="124.20" y2="418.25" stroke="#111" stroke-width="1.4"/>
<rect x="116.60" y="422.90" width="9.20" height="13.50" fill="#2d5290" stroke="#1f3a68" stroke-width="0.8"/>
<line x1="141.60" y1="422.40" x2="141.60" y2="421.50" stroke="#111" stroke-width="1.25"/>
<line x1="138.60" y1="421.50" x2="144.60" y2="421.50" stroke="#111" stroke-width="1.4"/>
<rect x="137.00" y="422.80" width="9.20" height="13.60" fill="#111111" stroke="#000000" stroke-width="0.8"/>
<rect x="148.60" y="425.20" width="9.20" height="11.20" fill="#b90832" stroke="#8c0a28" stroke-width="0.8"/>
<line x1="164.70" y1="378.50" x2="164.70" y2="375.00" stroke="#111" stroke-width="1.25"/>
<line x1="161.70" y1="375.00" x2="167.70" y2="375.00" stroke="#111" stroke-width="1.4"/>
<rect x="160.10" y="378.90" width="9.20" height="57.50" fill="#2d5290" stroke="#1f3a68" stroke-width="0.8"/>
<line x1="184.90" y1="422.90" x2="184.90" y2="422.00" stroke="#111" stroke-width="1.25"/>
<line x1="181.90" y1="422.00" x2="187.90" y2="422.00" stroke="#111" stroke-width="1.4"/>
<rect x="180.30" y="423.30" width="9.20" height="13.10" fill="#111111" stroke="#000000" stroke-width="0.8"/>
<line x1="196.50" y1="409.40" x2="196.50" y2="401.40" stroke="#111" stroke-width="1.25"/>
<line x1="193.50" y1="401.40" x2="199.50" y2="401.40" stroke="#111" stroke-width="1.4"/>
<rect x="191.90" y="409.80" width="9.20" height="26.60" fill="#b90832" stroke="#8c0a28" stroke-width="0.8"/>
<line x1="208.00" y1="429.60" x2="208.00" y2="428.80" stroke="#111" stroke-width="1.25"/>
<line x1="205.00" y1="428.80" x2="211.00" y2="428.80" stroke="#111" stroke-width="1.4"/>
<rect x="203.40" y="430.00" width="9.20" height="6.40" fill="#2d5290" stroke="#1f3a68" stroke-width="0.8"/>
<line x1="228.20" y1="396.00" x2="228.20" y2="393.80" stroke="#111" stroke-width="1.25"/>
<line x1="225.20" y1="393.80" x2="231.20" y2="393.80" stroke="#111" stroke-width="1.4"/>
<rect x="223.60" y="396.40" width="9.20" height="40.00" fill="#111111" stroke="#000000" stroke-width="0.8"/>
<line x1="239.80" y1="373.60" x2="239.80" y2="360.40" stroke="#111" stroke-width="1.25"/>
<line x1="236.80" y1="360.40" x2="242.80" y2="360.40" stroke="#111" stroke-width="1.4"/>
<rect x="235.20" y="374.00" width="9.20" height="62.40" fill="#b90832" stroke="#8c0a28" stroke-width="0.8"/>
<line x1="251.30" y1="431.50" x2="251.30" y2="430.80" stroke="#111" stroke-width="1.25"/>
<line x1="248.30" y1="430.80" x2="254.30" y2="430.80" stroke="#111" stroke-width="1.4"/>
<rect x="246.70" y="431.90" width="9.20" height="4.50" fill="#2d5290" stroke="#1f3a68" stroke-width="0.8"/>
<line x1="95.75" y1="412.00" x2="112.50" y2="412.00" stroke="#151515" stroke-width="1.35"/>
<text x="103.90" y="409.40" font-size="8.2" text-anchor="middle" fill="#b0164a" stroke="#b0164a" font-weight="normal" font-style="italic">0.06</text>
<line x1="53.00" y1="378.00" x2="79.50" y2="378.00" stroke="#151515" stroke-width="1.35"/>
<circle cx="66.25" cy="374.40" r="1.4" fill="#151515"/>
<line x1="150.20" y1="364.40" x2="167.50" y2="364.40" stroke="#151515" stroke-width="1.35"/>
<circle cx="154.70" cy="360.80" r="1.4" fill="#151515"/>
<circle cx="158.85" cy="360.80" r="1.4" fill="#151515"/>
<circle cx="163.00" cy="360.80" r="1.4" fill="#151515"/>
<line x1="140.00" y1="373.00" x2="166.50" y2="373.00" stroke="#151515" stroke-width="1.35"/>
<circle cx="149.10" cy="369.40" r="1.4" fill="#151515"/>
<circle cx="153.25" cy="369.40" r="1.4" fill="#151515"/>
<circle cx="157.40" cy="369.40" r="1.4" fill="#151515"/>
<line x1="183.30" y1="384.70" x2="209.70" y2="384.70" stroke="#151515" stroke-width="1.35"/>
<circle cx="192.35" cy="381.10" r="1.4" fill="#151515"/>
<circle cx="196.50" cy="381.10" r="1.4" fill="#151515"/>
<circle cx="200.65" cy="381.10" r="1.4" fill="#151515"/>
<line x1="181.90" y1="393.30" x2="198.90" y2="393.30" stroke="#151515" stroke-width="1.35"/>
<circle cx="190.40" cy="389.70" r="1.4" fill="#151515"/>
<line x1="193.20" y1="399.50" x2="210.70" y2="399.50" stroke="#151515" stroke-width="1.35"/>
<circle cx="201.95" cy="395.90" r="1.4" fill="#151515"/>
<line x1="226.90" y1="346.20" x2="252.70" y2="346.20" stroke="#151515" stroke-width="1.35"/>
<circle cx="235.65" cy="342.60" r="1.4" fill="#151515"/>
<circle cx="239.80" cy="342.60" r="1.4" fill="#151515"/>
<circle cx="243.95" cy="342.60" r="1.4" fill="#151515"/>
<line x1="225.00" y1="355.60" x2="238.50" y2="355.60" stroke="#151515" stroke-width="1.35"/>
<circle cx="231.75" cy="352.00" r="1.4" fill="#151515"/>
<line x1="240.40" y1="358.30" x2="253.80" y2="358.30" stroke="#151515" stroke-width="1.35"/>
<circle cx="242.95" cy="354.70" r="1.4" fill="#151515"/>
<circle cx="247.10" cy="354.70" r="1.4" fill="#151515"/>
<circle cx="251.25" cy="354.70" r="1.4" fill="#151515"/>
<line x1="66.05" y1="436.40" x2="66.05" y2="439.60" stroke="#1a1a1a" stroke-width="1.1"/>
<line x1="49.90" y1="441.80" x2="82.20" y2="441.80" stroke="#3a3a3a" stroke-width="1.6"/>
<text x="66.05" y="452.60" font-size="8.6" text-anchor="middle" fill="#1a1a1a" stroke="#1a1a1a" font-weight="normal" font-style="normal">Pre-GM</text>
<line x1="109.65" y1="436.40" x2="109.65" y2="439.60" stroke="#1a1a1a" stroke-width="1.1"/>
<line x1="93.50" y1="441.80" x2="125.80" y2="441.80" stroke="#3a3a3a" stroke-width="1.6"/>
<text x="109.65" y="452.60" font-size="8.6" text-anchor="middle" fill="#1a1a1a" stroke="#1a1a1a" font-weight="normal" font-style="normal">Pre-MegE</text>
<line x1="153.15" y1="436.40" x2="153.15" y2="439.60" stroke="#1a1a1a" stroke-width="1.1"/>
<line x1="137.00" y1="441.80" x2="169.30" y2="441.80" stroke="#3a3a3a" stroke-width="1.6"/>
<text x="153.15" y="452.60" font-size="8.6" text-anchor="middle" fill="#1a1a1a" stroke="#1a1a1a" font-weight="normal" font-style="normal">MkP</text>
<line x1="196.45" y1="436.40" x2="196.45" y2="439.60" stroke="#1a1a1a" stroke-width="1.1"/>
<line x1="180.30" y1="441.80" x2="212.60" y2="441.80" stroke="#3a3a3a" stroke-width="1.6"/>
<text x="196.45" y="452.60" font-size="8.6" text-anchor="middle" fill="#1a1a1a" stroke="#1a1a1a" font-weight="normal" font-style="normal">Pre-CFU-E</text>
<line x1="239.75" y1="436.40" x2="239.75" y2="439.60" stroke="#1a1a1a" stroke-width="1.1"/>
<line x1="223.60" y1="441.80" x2="255.90" y2="441.80" stroke="#3a3a3a" stroke-width="1.6"/>
<text x="239.75" y="452.60" font-size="8.6" text-anchor="middle" fill="#1a1a1a" stroke="#1a1a1a" font-weight="normal" font-style="normal">CFU-E</text>
<line x1="295.00" y1="342.50" x2="295.00" y2="437.45" stroke="#111" stroke-width="1.4"/>
<line x1="294.30" y1="436.75" x2="513.70" y2="436.75" stroke="#111" stroke-width="1.4"/>
<line x1="291.40" y1="345.01" x2="295.00" y2="345.01" stroke="#1a1a1a" stroke-width="1.1"/>
<text x="288.00" y="348.01" font-size="8.4" text-anchor="end" fill="#1a1a1a" stroke="#1a1a1a" font-weight="normal" font-style="normal">0.3</text>
<line x1="291.40" y1="375.59" x2="295.00" y2="375.59" stroke="#1a1a1a" stroke-width="1.1"/>
<text x="288.00" y="378.59" font-size="8.4" text-anchor="end" fill="#1a1a1a" stroke="#1a1a1a" font-weight="normal" font-style="normal">0.2</text>
<line x1="291.40" y1="406.17" x2="295.00" y2="406.17" stroke="#1a1a1a" stroke-width="1.1"/>
<text x="288.00" y="409.17" font-size="8.4" text-anchor="end" fill="#1a1a1a" stroke="#1a1a1a" font-weight="normal" font-style="normal">0.1</text>
<line x1="291.40" y1="436.75" x2="295.00" y2="436.75" stroke="#1a1a1a" stroke-width="1.1"/>
<text x="288.00" y="439.75" font-size="8.4" text-anchor="end" fill="#1a1a1a" stroke="#1a1a1a" font-weight="normal" font-style="normal">0.0</text>
<rect x="301.65" y="432.40" width="9.20" height="4.35" fill="#111111" stroke="#000000" stroke-width="0.8"/>
<line x1="317.80" y1="428.00" x2="317.80" y2="427.00" stroke="#111" stroke-width="1.25"/>
<line x1="314.80" y1="427.00" x2="320.80" y2="427.00" stroke="#111" stroke-width="1.4"/>
<rect x="313.20" y="428.40" width="9.20" height="8.35" fill="#b90832" stroke="#8c0a28" stroke-width="0.8"/>
<line x1="329.45" y1="416.75" x2="329.45" y2="409.50" stroke="#111" stroke-width="1.25"/>
<line x1="326.45" y1="409.50" x2="332.45" y2="409.50" stroke="#111" stroke-width="1.4"/>
<rect x="324.85" y="417.15" width="9.20" height="19.60" fill="#2d5290" stroke="#1f3a68" stroke-width="0.8"/>
<line x1="349.55" y1="428.25" x2="349.55" y2="425.75" stroke="#111" stroke-width="1.25"/>
<line x1="346.55" y1="425.75" x2="352.55" y2="425.75" stroke="#111" stroke-width="1.4"/>
<rect x="344.95" y="428.65" width="9.20" height="8.10" fill="#111111" stroke="#000000" stroke-width="0.8"/>
<line x1="361.10" y1="425.50" x2="361.10" y2="421.75" stroke="#111" stroke-width="1.25"/>
<line x1="358.10" y1="421.75" x2="364.10" y2="421.75" stroke="#111" stroke-width="1.4"/>
<rect x="356.50" y="425.90" width="9.20" height="10.85" fill="#b90832" stroke="#8c0a28" stroke-width="0.8"/>
<line x1="372.75" y1="425.00" x2="372.75" y2="418.75" stroke="#111" stroke-width="1.25"/>
<line x1="369.75" y1="418.75" x2="375.75" y2="418.75" stroke="#111" stroke-width="1.4"/>
<rect x="368.15" y="425.40" width="9.20" height="11.35" fill="#2d5290" stroke="#1f3a68" stroke-width="0.8"/>
<rect x="388.25" y="435.00" width="9.20" height="1.75" fill="#111111" stroke="#000000" stroke-width="0.8"/>
<line x1="404.40" y1="429.20" x2="404.40" y2="428.50" stroke="#111" stroke-width="1.25"/>
<line x1="401.40" y1="428.50" x2="407.40" y2="428.50" stroke="#111" stroke-width="1.4"/>
<rect x="399.80" y="429.60" width="9.20" height="7.15" fill="#b90832" stroke="#8c0a28" stroke-width="0.8"/>
<line x1="416.05" y1="370.20" x2="416.05" y2="356.00" stroke="#111" stroke-width="1.25"/>
<line x1="413.05" y1="356.00" x2="419.05" y2="356.00" stroke="#111" stroke-width="1.4"/>
<rect x="411.45" y="370.60" width="9.20" height="66.15" fill="#2d5290" stroke="#1f3a68" stroke-width="0.8"/>
<rect x="431.70" y="428.50" width="9.20" height="8.25" fill="#111111" stroke="#000000" stroke-width="0.8"/>
<line x1="447.85" y1="422.20" x2="447.85" y2="419.00" stroke="#111" stroke-width="1.25"/>
<line x1="444.85" y1="419.00" x2="450.85" y2="419.00" stroke="#111" stroke-width="1.4"/>
<rect x="443.25" y="422.60" width="9.20" height="14.15" fill="#b90832" stroke="#8c0a28" stroke-width="0.8"/>
<line x1="459.50" y1="417.00" x2="459.50" y2="413.60" stroke="#111" stroke-width="1.25"/>
<line x1="456.50" y1="413.60" x2="462.50" y2="413.60" stroke="#111" stroke-width="1.4"/>
<rect x="454.90" y="417.40" width="9.20" height="19.35" fill="#2d5290" stroke="#1f3a68" stroke-width="0.8"/>
<line x1="479.70" y1="425.30" x2="479.70" y2="422.20" stroke="#111" stroke-width="1.25"/>
<line x1="476.70" y1="422.20" x2="482.70" y2="422.20" stroke="#111" stroke-width="1.4"/>
<rect x="475.10" y="425.70" width="9.20" height="11.05" fill="#111111" stroke="#000000" stroke-width="0.8"/>
<line x1="491.25" y1="412.60" x2="491.25" y2="405.30" stroke="#111" stroke-width="1.25"/>
<line x1="488.25" y1="405.30" x2="494.25" y2="405.30" stroke="#111" stroke-width="1.4"/>
<rect x="486.65" y="413.00" width="9.20" height="23.75" fill="#b90832" stroke="#8c0a28" stroke-width="0.8"/>
<line x1="502.90" y1="407.10" x2="502.90" y2="395.40" stroke="#111" stroke-width="1.25"/>
<line x1="499.90" y1="395.40" x2="505.90" y2="395.40" stroke="#111" stroke-width="1.4"/>
<rect x="498.30" y="407.50" width="9.20" height="29.25" fill="#2d5290" stroke="#1f3a68" stroke-width="0.8"/>
<line x1="304.25" y1="392.50" x2="330.75" y2="392.50" stroke="#151515" stroke-width="1.35"/>
<circle cx="313.35" cy="388.90" r="1.4" fill="#151515"/>
<circle cx="317.50" cy="388.90" r="1.4" fill="#151515"/>
<circle cx="321.65" cy="388.90" r="1.4" fill="#151515"/>
<line x1="315.00" y1="401.25" x2="331.25" y2="401.25" stroke="#151515" stroke-width="1.35"/>
<circle cx="318.98" cy="397.65" r="1.4" fill="#151515"/>
<circle cx="323.12" cy="397.65" r="1.4" fill="#151515"/>
<circle cx="327.27" cy="397.65" r="1.4" fill="#151515"/>
<line x1="303.00" y1="410.00" x2="320.50" y2="410.00" stroke="#151515" stroke-width="1.35"/>
<circle cx="307.60" cy="406.40" r="1.4" fill="#151515"/>
<circle cx="311.75" cy="406.40" r="1.4" fill="#151515"/>
<circle cx="315.90" cy="406.40" r="1.4" fill="#151515"/>
<line x1="404.70" y1="343.50" x2="419.00" y2="343.50" stroke="#151515" stroke-width="1.35"/>
<circle cx="407.70" cy="339.90" r="1.4" fill="#151515"/>
<circle cx="411.85" cy="339.90" r="1.4" fill="#151515"/>
<circle cx="416.00" cy="339.90" r="1.4" fill="#151515"/>
<line x1="390.90" y1="353.90" x2="416.30" y2="353.90" stroke="#151515" stroke-width="1.35"/>
<circle cx="399.45" cy="350.30" r="1.4" fill="#151515"/>
<circle cx="403.60" cy="350.30" r="1.4" fill="#151515"/>
<circle cx="407.75" cy="350.30" r="1.4" fill="#151515"/>
<line x1="389.90" y1="363.70" x2="406.70" y2="363.70" stroke="#151515" stroke-width="1.35"/>
<circle cx="394.15" cy="360.10" r="1.4" fill="#151515"/>
<circle cx="398.30" cy="360.10" r="1.4" fill="#151515"/>
<circle cx="402.45" cy="360.10" r="1.4" fill="#151515"/>
<line x1="435.30" y1="401.40" x2="461.00" y2="401.40" stroke="#151515" stroke-width="1.35"/>
<circle cx="444.00" cy="397.80" r="1.4" fill="#151515"/>
<circle cx="448.15" cy="397.80" r="1.4" fill="#151515"/>
<circle cx="452.30" cy="397.80" r="1.4" fill="#151515"/>
<line x1="434.00" y1="414.40" x2="450.60" y2="414.40" stroke="#151515" stroke-width="1.35"/>
<circle cx="442.30" cy="410.80" r="1.4" fill="#151515"/>
<line x1="478.60" y1="392.30" x2="504.60" y2="392.30" stroke="#151515" stroke-width="1.35"/>
<circle cx="491.60" cy="388.70" r="1.4" fill="#151515"/>
<line x1="477.40" y1="402.70" x2="494.20" y2="402.70" stroke="#151515" stroke-width="1.35"/>
<circle cx="485.80" cy="399.10" r="1.4" fill="#151515"/>
<line x1="317.85" y1="436.75" x2="317.85" y2="439.95" stroke="#1a1a1a" stroke-width="1.1"/>
<line x1="301.65" y1="441.80" x2="334.05" y2="441.80" stroke="#3a3a3a" stroke-width="1.6"/>
<text x="317.85" y="452.60" font-size="8.6" text-anchor="middle" fill="#1a1a1a" stroke="#1a1a1a" font-weight="normal" font-style="normal">Pre-GM</text>
<line x1="361.15" y1="436.75" x2="361.15" y2="439.95" stroke="#1a1a1a" stroke-width="1.1"/>
<line x1="344.95" y1="441.80" x2="377.35" y2="441.80" stroke="#3a3a3a" stroke-width="1.6"/>
<text x="361.15" y="452.60" font-size="8.6" text-anchor="middle" fill="#1a1a1a" stroke="#1a1a1a" font-weight="normal" font-style="normal">Pre-MegE</text>
<line x1="404.45" y1="436.75" x2="404.45" y2="439.95" stroke="#1a1a1a" stroke-width="1.1"/>
<line x1="388.25" y1="441.80" x2="420.65" y2="441.80" stroke="#3a3a3a" stroke-width="1.6"/>
<text x="404.45" y="452.60" font-size="8.6" text-anchor="middle" fill="#1a1a1a" stroke="#1a1a1a" font-weight="normal" font-style="normal">MkP</text>
<line x1="447.90" y1="436.75" x2="447.90" y2="439.95" stroke="#1a1a1a" stroke-width="1.1"/>
<line x1="431.70" y1="441.80" x2="464.10" y2="441.80" stroke="#3a3a3a" stroke-width="1.6"/>
<text x="447.90" y="452.60" font-size="8.6" text-anchor="middle" fill="#1a1a1a" stroke="#1a1a1a" font-weight="normal" font-style="normal">Pre-CFU-E</text>
<line x1="491.30" y1="436.75" x2="491.30" y2="439.95" stroke="#1a1a1a" stroke-width="1.1"/>
<line x1="475.10" y1="441.80" x2="507.50" y2="441.80" stroke="#3a3a3a" stroke-width="1.6"/>
<text x="491.30" y="452.60" font-size="8.6" text-anchor="middle" fill="#1a1a1a" stroke="#1a1a1a" font-weight="normal" font-style="normal">CFU-E</text>
<text x="103.50" y="471.30" font-size="10.2" text-anchor="middle" fill="#1a1a1a" stroke="#1a1a1a" font-weight="normal" font-style="normal">Erythroid colonies</text>
<text x="103.50" y="484.30" font-size="10.2" text-anchor="middle" fill="#1a1a1a" stroke="#1a1a1a" font-weight="normal" font-style="normal">(per 2×10<tspan font-size="7.2" dy="-3.9">5</tspan><tspan dy="3.9"> BM cells)</tspan></text>
<text x="254.30" y="471.30" font-size="10.2" text-anchor="middle" fill="#1a1a1a" stroke="#1a1a1a" font-weight="normal" font-style="normal">Megakaryocytic colonies</text>
<text x="254.00" y="484.30" font-size="10.2" text-anchor="middle" fill="#1a1a1a" stroke="#1a1a1a" font-weight="normal" font-style="normal">(per 5×10<tspan font-size="7.2" dy="-3.9">4</tspan><tspan dy="3.9"> BM cells)</tspan></text>
<text x="416.20" y="471.30" font-size="10.2" text-anchor="middle" fill="#1a1a1a" stroke="#1a1a1a" font-weight="normal" font-style="normal">Myeloid colonies</text>
<text x="415.40" y="484.30" font-size="10.2" text-anchor="middle" fill="#1a1a1a" stroke="#1a1a1a" font-weight="normal" font-style="normal">(per 1×10<tspan font-size="7.2" dy="-3.9">4</tspan><tspan dy="3.9"> BM cells)</tspan></text>
<text x="12.80" y="533.80" font-size="10.2" text-anchor="middle" fill="#1a1a1a" stroke="#1a1a1a" font-weight="normal" font-style="normal" transform="rotate(-90 12.8 533.8)" dominant-baseline="central">Number of colonies</text>
<line x1="39.80" y1="491.00" x2="39.80" y2="577.90" stroke="#111" stroke-width="1.4"/>
<line x1="39.10" y1="577.20" x2="90.50" y2="577.20" stroke="#111" stroke-width="1.4"/>
<line x1="36.20" y1="493.11" x2="39.80" y2="493.11" stroke="#1a1a1a" stroke-width="1.1"/>
<text x="32.80" y="496.11" font-size="8.4" text-anchor="end" fill="#1a1a1a" stroke="#1a1a1a" font-weight="normal" font-style="normal">30</text>
<line x1="36.20" y1="521.14" x2="39.80" y2="521.14" stroke="#1a1a1a" stroke-width="1.1"/>
<text x="32.80" y="524.14" font-size="8.4" text-anchor="end" fill="#1a1a1a" stroke="#1a1a1a" font-weight="normal" font-style="normal">20</text>
<line x1="36.20" y1="549.17" x2="39.80" y2="549.17" stroke="#1a1a1a" stroke-width="1.1"/>
<text x="32.80" y="552.17" font-size="8.4" text-anchor="end" fill="#1a1a1a" stroke="#1a1a1a" font-weight="normal" font-style="normal">10</text>
<line x1="36.20" y1="577.20" x2="39.80" y2="577.20" stroke="#1a1a1a" stroke-width="1.1"/>
<text x="32.80" y="580.20" font-size="8.4" text-anchor="end" fill="#1a1a1a" stroke="#1a1a1a" font-weight="normal" font-style="normal">0</text>
<line x1="51.30" y1="563.00" x2="51.30" y2="562.00" stroke="#111" stroke-width="1.25"/>
<line x1="48.30" y1="562.00" x2="54.30" y2="562.00" stroke="#111" stroke-width="1.4"/>
<rect x="46.50" y="563.40" width="9.60" height="13.80" fill="#111111" stroke="#000000" stroke-width="0.8"/>
<line x1="65.65" y1="518.00" x2="65.65" y2="514.30" stroke="#111" stroke-width="1.25"/>
<line x1="62.65" y1="514.30" x2="68.65" y2="514.30" stroke="#111" stroke-width="1.4"/>
<rect x="60.85" y="518.40" width="9.60" height="58.80" fill="#b90832" stroke="#8c0a28" stroke-width="0.8"/>
<line x1="80.00" y1="535.70" x2="80.00" y2="533.90" stroke="#111" stroke-width="1.25"/>
<line x1="77.00" y1="533.90" x2="83.00" y2="533.90" stroke="#111" stroke-width="1.4"/>
<rect x="75.20" y="536.10" width="9.60" height="41.10" fill="#2d5290" stroke="#1f3a68" stroke-width="0.8"/>
<line x1="50.20" y1="497.40" x2="81.30" y2="497.40" stroke="#151515" stroke-width="1.35"/>
<circle cx="65.75" cy="493.80" r="1.4" fill="#151515"/>
<line x1="49.70" y1="512.00" x2="67.60" y2="512.00" stroke="#151515" stroke-width="1.35"/>
<circle cx="58.65" cy="508.40" r="1.4" fill="#151515"/>
<line x1="63.00" y1="507.40" x2="82.20" y2="507.40" stroke="#151515" stroke-width="1.35"/>
<circle cx="72.60" cy="503.80" r="1.4" fill="#151515"/>
<line x1="49.30" y1="582.40" x2="82.20" y2="582.40" stroke="#3a3a3a" stroke-width="1.6"/>
<text x="65.30" y="592.70" font-size="8.6" text-anchor="middle" fill="#1a1a1a" stroke="#1a1a1a" font-weight="normal" font-style="normal">BFU-E</text>
<line x1="118.00" y1="491.00" x2="118.00" y2="577.90" stroke="#111" stroke-width="1.4"/>
<line x1="117.30" y1="577.20" x2="173.00" y2="577.20" stroke="#111" stroke-width="1.4"/>
<line x1="114.40" y1="493.11" x2="118.00" y2="493.11" stroke="#1a1a1a" stroke-width="1.1"/>
<text x="111.00" y="496.11" font-size="8.4" text-anchor="end" fill="#1a1a1a" stroke="#1a1a1a" font-weight="normal" font-style="normal">30</text>
<line x1="114.40" y1="521.14" x2="118.00" y2="521.14" stroke="#1a1a1a" stroke-width="1.1"/>
<text x="111.00" y="524.14" font-size="8.4" text-anchor="end" fill="#1a1a1a" stroke="#1a1a1a" font-weight="normal" font-style="normal">20</text>
<line x1="114.40" y1="549.17" x2="118.00" y2="549.17" stroke="#1a1a1a" stroke-width="1.1"/>
<text x="111.00" y="552.17" font-size="8.4" text-anchor="end" fill="#1a1a1a" stroke="#1a1a1a" font-weight="normal" font-style="normal">10</text>
<line x1="114.40" y1="577.20" x2="118.00" y2="577.20" stroke="#1a1a1a" stroke-width="1.1"/>
<text x="111.00" y="580.20" font-size="8.4" text-anchor="end" fill="#1a1a1a" stroke="#1a1a1a" font-weight="normal" font-style="normal">0</text>
<rect x="127.30" y="576.40" width="9.60" height="0.80" fill="#111111" stroke="#000000" stroke-width="0.8"/>
<line x1="146.45" y1="553.50" x2="146.45" y2="552.60" stroke="#111" stroke-width="1.25"/>
<line x1="143.45" y1="552.60" x2="149.45" y2="552.60" stroke="#111" stroke-width="1.4"/>
<rect x="141.65" y="553.90" width="9.60" height="23.30" fill="#b90832" stroke="#8c0a28" stroke-width="0.8"/>
<line x1="160.80" y1="562.20" x2="160.80" y2="560.40" stroke="#111" stroke-width="1.25"/>
<line x1="157.80" y1="560.40" x2="163.80" y2="560.40" stroke="#111" stroke-width="1.4"/>
<rect x="156.00" y="562.60" width="9.60" height="14.60" fill="#2d5290" stroke="#1f3a68" stroke-width="0.8"/>
<line x1="130.30" y1="534.70" x2="161.70" y2="534.70" stroke="#151515" stroke-width="1.35"/>
<circle cx="146.00" cy="531.10" r="1.4" fill="#151515"/>
<line x1="129.60" y1="549.40" x2="148.80" y2="549.40" stroke="#151515" stroke-width="1.35"/>
<circle cx="139.20" cy="545.80" r="1.4" fill="#151515"/>
<line x1="143.40" y1="545.10" x2="163.20" y2="545.10" stroke="#151515" stroke-width="1.35"/>
<circle cx="153.30" cy="541.50" r="1.4" fill="#151515"/>
<line x1="130.00" y1="582.60" x2="162.80" y2="582.60" stroke="#3a3a3a" stroke-width="1.6"/>
<text x="146.20" y="592.60" font-size="8.6" text-anchor="middle" fill="#1a1a1a" stroke="#1a1a1a" font-weight="normal" font-style="normal">EEC</text>
<text x="146.20" y="603.40" font-size="8.6" text-anchor="middle" fill="#1a1a1a" stroke="#1a1a1a" font-weight="normal" font-style="normal">w/o Epo</text>
<line x1="204.80" y1="490.00" x2="204.80" y2="577.50" stroke="#111" stroke-width="1.4"/>
<line x1="204.10" y1="576.80" x2="306.00" y2="576.80" stroke="#111" stroke-width="1.4"/>
<line x1="201.20" y1="491.99" x2="204.80" y2="491.99" stroke="#1a1a1a" stroke-width="1.1"/>
<text x="197.80" y="494.99" font-size="8.4" text-anchor="end" fill="#1a1a1a" stroke="#1a1a1a" font-weight="normal" font-style="normal">30</text>
<line x1="201.20" y1="520.26" x2="204.80" y2="520.26" stroke="#1a1a1a" stroke-width="1.1"/>
<text x="197.80" y="523.26" font-size="8.4" text-anchor="end" fill="#1a1a1a" stroke="#1a1a1a" font-weight="normal" font-style="normal">20</text>
<line x1="201.20" y1="548.53" x2="204.80" y2="548.53" stroke="#1a1a1a" stroke-width="1.1"/>
<text x="197.80" y="551.53" font-size="8.4" text-anchor="end" fill="#1a1a1a" stroke="#1a1a1a" font-weight="normal" font-style="normal">10</text>
<line x1="201.20" y1="576.80" x2="204.80" y2="576.80" stroke="#1a1a1a" stroke-width="1.1"/>
<text x="197.80" y="579.80" font-size="8.4" text-anchor="end" fill="#1a1a1a" stroke="#1a1a1a" font-weight="normal" font-style="normal">0</text>
<line x1="215.20" y1="542.70" x2="215.20" y2="538.00" stroke="#111" stroke-width="1.25"/>
<line x1="212.20" y1="538.00" x2="218.20" y2="538.00" stroke="#111" stroke-width="1.4"/>
<rect x="210.40" y="543.10" width="9.60" height="33.70" fill="#111111" stroke="#000000" stroke-width="0.8"/>
<line x1="229.55" y1="545.80" x2="229.55" y2="542.10" stroke="#111" stroke-width="1.25"/>
<line x1="226.55" y1="542.10" x2="232.55" y2="542.10" stroke="#111" stroke-width="1.4"/>
<rect x="224.75" y="546.20" width="9.60" height="30.60" fill="#b90832" stroke="#8c0a28" stroke-width="0.8"/>
<line x1="243.90" y1="517.50" x2="243.90" y2="512.50" stroke="#111" stroke-width="1.25"/>
<line x1="240.90" y1="512.50" x2="246.90" y2="512.50" stroke="#111" stroke-width="1.4"/>
<rect x="239.10" y="517.90" width="9.60" height="58.90" fill="#2d5290" stroke="#1f3a68" stroke-width="0.8"/>
<line x1="264.40" y1="568.20" x2="264.40" y2="565.80" stroke="#111" stroke-width="1.25"/>
<line x1="261.40" y1="565.80" x2="267.40" y2="565.80" stroke="#111" stroke-width="1.4"/>
<rect x="259.60" y="568.60" width="9.60" height="8.20" fill="#111111" stroke="#000000" stroke-width="0.8"/>
<line x1="278.75" y1="563.60" x2="278.75" y2="561.20" stroke="#111" stroke-width="1.25"/>
<line x1="275.75" y1="561.20" x2="281.75" y2="561.20" stroke="#111" stroke-width="1.4"/>
<rect x="273.95" y="564.00" width="9.60" height="12.80" fill="#b90832" stroke="#8c0a28" stroke-width="0.8"/>
<line x1="293.10" y1="541.20" x2="293.10" y2="537.50" stroke="#111" stroke-width="1.25"/>
<line x1="290.10" y1="537.50" x2="296.10" y2="537.50" stroke="#111" stroke-width="1.4"/>
<rect x="288.30" y="541.60" width="9.60" height="35.20" fill="#2d5290" stroke="#1f3a68" stroke-width="0.8"/>
<line x1="214.00" y1="500.50" x2="245.40" y2="500.50" stroke="#151515" stroke-width="1.35"/>
<circle cx="227.62" cy="496.90" r="1.4" fill="#151515"/>
<circle cx="231.77" cy="496.90" r="1.4" fill="#151515"/>
<line x1="226.90" y1="510.40" x2="246.90" y2="510.40" stroke="#151515" stroke-width="1.35"/>
<circle cx="234.83" cy="506.80" r="1.4" fill="#151515"/>
<circle cx="238.97" cy="506.80" r="1.4" fill="#151515"/>
<line x1="262.90" y1="522.10" x2="295.20" y2="522.10" stroke="#151515" stroke-width="1.35"/>
<circle cx="276.97" cy="518.50" r="1.4" fill="#151515"/>
<circle cx="281.12" cy="518.50" r="1.4" fill="#151515"/>
<line x1="276.20" y1="532.50" x2="296.20" y2="532.50" stroke="#151515" stroke-width="1.35"/>
<circle cx="284.12" cy="528.90" r="1.4" fill="#151515"/>
<circle cx="288.27" cy="528.90" r="1.4" fill="#151515"/>
<line x1="213.70" y1="581.40" x2="246.00" y2="581.40" stroke="#3a3a3a" stroke-width="1.6"/>
<line x1="262.30" y1="581.40" x2="294.60" y2="581.40" stroke="#3a3a3a" stroke-width="1.6"/>
<text x="230.00" y="592.50" font-size="8.6" text-anchor="middle" fill="#1a1a1a" stroke="#1a1a1a" font-weight="normal" font-style="normal">CFU-MK</text>
<text x="278.60" y="592.50" font-size="8.6" text-anchor="middle" fill="#1a1a1a" stroke="#1a1a1a" font-weight="normal" font-style="normal">CFU-MK</text>
<text x="278.60" y="602.80" font-size="8.6" text-anchor="middle" fill="#1a1a1a" stroke="#1a1a1a" font-weight="normal" font-style="normal">w/o Tpo</text>
<line x1="341.90" y1="494.00" x2="341.90" y2="577.50" stroke="#111" stroke-width="1.4"/>
<line x1="341.20" y1="576.80" x2="489.00" y2="576.80" stroke="#111" stroke-width="1.4"/>
<line x1="338.30" y1="497.21" x2="341.90" y2="497.21" stroke="#1a1a1a" stroke-width="1.1"/>
<text x="334.90" y="500.21" font-size="8.4" text-anchor="end" fill="#1a1a1a" stroke="#1a1a1a" font-weight="normal" font-style="normal">30</text>
<line x1="338.30" y1="523.74" x2="341.90" y2="523.74" stroke="#1a1a1a" stroke-width="1.1"/>
<text x="334.90" y="526.74" font-size="8.4" text-anchor="end" fill="#1a1a1a" stroke="#1a1a1a" font-weight="normal" font-style="normal">20</text>
<line x1="338.30" y1="550.27" x2="341.90" y2="550.27" stroke="#1a1a1a" stroke-width="1.1"/>
<text x="334.90" y="553.27" font-size="8.4" text-anchor="end" fill="#1a1a1a" stroke="#1a1a1a" font-weight="normal" font-style="normal">10</text>
<line x1="338.30" y1="576.80" x2="341.90" y2="576.80" stroke="#1a1a1a" stroke-width="1.1"/>
<text x="334.90" y="579.80" font-size="8.4" text-anchor="end" fill="#1a1a1a" stroke="#1a1a1a" font-weight="normal" font-style="normal">0</text>
<line x1="352.40" y1="534.30" x2="352.40" y2="530.70" stroke="#111" stroke-width="1.25"/>
<line x1="349.40" y1="530.70" x2="355.40" y2="530.70" stroke="#111" stroke-width="1.4"/>
<rect x="347.60" y="534.70" width="9.60" height="42.10" fill="#111111" stroke="#000000" stroke-width="0.8"/>
<line x1="366.75" y1="525.20" x2="366.75" y2="518.10" stroke="#111" stroke-width="1.25"/>
<line x1="363.75" y1="518.10" x2="369.75" y2="518.10" stroke="#111" stroke-width="1.4"/>
<rect x="361.95" y="525.60" width="9.60" height="51.20" fill="#b90832" stroke="#8c0a28" stroke-width="0.8"/>
<line x1="381.10" y1="505.80" x2="381.10" y2="500.20" stroke="#111" stroke-width="1.25"/>
<line x1="378.10" y1="500.20" x2="384.10" y2="500.20" stroke="#111" stroke-width="1.4"/>
<rect x="376.30" y="506.20" width="9.60" height="70.60" fill="#2d5290" stroke="#1f3a68" stroke-width="0.8"/>
<line x1="400.60" y1="553.50" x2="400.60" y2="551.30" stroke="#111" stroke-width="1.25"/>
<line x1="397.60" y1="551.30" x2="403.60" y2="551.30" stroke="#111" stroke-width="1.4"/>
<rect x="395.80" y="553.90" width="9.60" height="22.90" fill="#111111" stroke="#000000" stroke-width="0.8"/>
<line x1="414.95" y1="554.10" x2="414.95" y2="551.30" stroke="#111" stroke-width="1.25"/>
<line x1="411.95" y1="551.30" x2="417.95" y2="551.30" stroke="#111" stroke-width="1.4"/>
<rect x="410.15" y="554.50" width="9.60" height="22.30" fill="#b90832" stroke="#8c0a28" stroke-width="0.8"/>
<line x1="429.30" y1="537.50" x2="429.30" y2="533.80" stroke="#111" stroke-width="1.25"/>
<line x1="426.30" y1="533.80" x2="432.30" y2="533.80" stroke="#111" stroke-width="1.4"/>
<rect x="424.50" y="537.90" width="9.60" height="38.90" fill="#2d5290" stroke="#1f3a68" stroke-width="0.8"/>
<line x1="450.20" y1="547.00" x2="450.20" y2="542.50" stroke="#111" stroke-width="1.25"/>
<line x1="447.20" y1="542.50" x2="453.20" y2="542.50" stroke="#111" stroke-width="1.4"/>
<rect x="445.40" y="547.40" width="9.60" height="29.40" fill="#111111" stroke="#000000" stroke-width="0.8"/>
<line x1="464.55" y1="544.30" x2="464.55" y2="538.50" stroke="#111" stroke-width="1.25"/>
<line x1="461.55" y1="538.50" x2="467.55" y2="538.50" stroke="#111" stroke-width="1.4"/>
<rect x="459.75" y="544.70" width="9.60" height="32.10" fill="#b90832" stroke="#8c0a28" stroke-width="0.8"/>
<line x1="478.90" y1="532.10" x2="478.90" y2="528.40" stroke="#111" stroke-width="1.25"/>
<line x1="475.90" y1="528.40" x2="481.90" y2="528.40" stroke="#111" stroke-width="1.4"/>
<rect x="474.10" y="532.50" width="9.60" height="44.30" fill="#2d5290" stroke="#1f3a68" stroke-width="0.8"/>
<line x1="350.80" y1="495.40" x2="383.10" y2="495.40" stroke="#151515" stroke-width="1.35"/>
<circle cx="366.95" cy="491.80" r="1.4" fill="#151515"/>
<line x1="400.00" y1="521.20" x2="430.20" y2="521.20" stroke="#151515" stroke-width="1.35"/>
<circle cx="415.10" cy="517.60" r="1.4" fill="#151515"/>
<line x1="412.90" y1="530.40" x2="431.40" y2="530.40" stroke="#151515" stroke-width="1.35"/>
<circle cx="422.15" cy="526.80" r="1.4" fill="#151515"/>
<line x1="349.70" y1="581.80" x2="383.80" y2="581.80" stroke="#3a3a3a" stroke-width="1.6"/>
<text x="366.75" y="592.60" font-size="8.6" text-anchor="middle" fill="#1a1a1a" stroke="#1a1a1a" font-weight="normal" font-style="normal">CFU-G</text>
<line x1="397.90" y1="581.80" x2="432.00" y2="581.80" stroke="#3a3a3a" stroke-width="1.6"/>
<text x="414.95" y="592.60" font-size="8.6" text-anchor="middle" fill="#1a1a1a" stroke="#1a1a1a" font-weight="normal" font-style="normal">CFU-M</text>
<line x1="447.50" y1="581.80" x2="481.60" y2="581.80" stroke="#3a3a3a" stroke-width="1.6"/>
<text x="464.55" y="592.60" font-size="8.6" text-anchor="middle" fill="#1a1a1a" stroke="#1a1a1a" font-weight="normal" font-style="normal">CFU-GM</text>
<text x="32.60" y="621.30" font-size="10.2" text-anchor="start" fill="#1a1a1a" stroke="#1a1a1a" font-weight="normal" font-style="normal">Serum Epo levels</text>
<line x1="43.80" y1="629.00" x2="43.80" y2="729.70" stroke="#111" stroke-width="1.4"/>
<line x1="43.10" y1="729.00" x2="101.00" y2="729.00" stroke="#111" stroke-width="1.4"/>
<line x1="40.20" y1="631.50" x2="43.80" y2="631.50" stroke="#1a1a1a" stroke-width="1.1"/>
<text x="36.80" y="634.50" font-size="8.4" text-anchor="end" fill="#1a1a1a" stroke="#1a1a1a" font-weight="normal" font-style="normal">500</text>
<line x1="40.20" y1="651.00" x2="43.80" y2="651.00" stroke="#1a1a1a" stroke-width="1.1"/>
<text x="36.80" y="654.00" font-size="8.4" text-anchor="end" fill="#1a1a1a" stroke="#1a1a1a" font-weight="normal" font-style="normal">400</text>
<line x1="40.20" y1="670.50" x2="43.80" y2="670.50" stroke="#1a1a1a" stroke-width="1.1"/>
<text x="36.80" y="673.50" font-size="8.4" text-anchor="end" fill="#1a1a1a" stroke="#1a1a1a" font-weight="normal" font-style="normal">300</text>
<line x1="40.20" y1="690.00" x2="43.80" y2="690.00" stroke="#1a1a1a" stroke-width="1.1"/>
<text x="36.80" y="693.00" font-size="8.4" text-anchor="end" fill="#1a1a1a" stroke="#1a1a1a" font-weight="normal" font-style="normal">200</text>
<line x1="40.20" y1="709.50" x2="43.80" y2="709.50" stroke="#1a1a1a" stroke-width="1.1"/>
<text x="36.80" y="712.50" font-size="8.4" text-anchor="end" fill="#1a1a1a" stroke="#1a1a1a" font-weight="normal" font-style="normal">100</text>
<line x1="40.20" y1="729.00" x2="43.80" y2="729.00" stroke="#1a1a1a" stroke-width="1.1"/>
<text x="36.80" y="732.00" font-size="8.4" text-anchor="end" fill="#1a1a1a" stroke="#1a1a1a" font-weight="normal" font-style="normal">0</text>
<line x1="55.20" y1="654.00" x2="55.20" y2="639.00" stroke="#111" stroke-width="1.25"/>
<line x1="52.20" y1="639.00" x2="58.20" y2="639.00" stroke="#111" stroke-width="1.4"/>
<rect x="50.30" y="654.40" width="9.80" height="74.60" fill="#111111" stroke="#000000" stroke-width="0.8"/>
<line x1="73.70" y1="664.10" x2="73.70" y2="657.50" stroke="#111" stroke-width="1.25"/>
<line x1="70.70" y1="657.50" x2="76.70" y2="657.50" stroke="#111" stroke-width="1.4"/>
<rect x="68.80" y="664.50" width="9.80" height="64.50" fill="#b90832" stroke="#8c0a28" stroke-width="0.8"/>
<line x1="92.40" y1="667.00" x2="92.40" y2="662.70" stroke="#111" stroke-width="1.25"/>
<line x1="89.40" y1="662.70" x2="95.40" y2="662.70" stroke="#111" stroke-width="1.4"/>
<rect x="87.50" y="667.40" width="9.80" height="61.60" fill="#2d5290" stroke="#1f3a68" stroke-width="0.8"/>
<text x="14.40" y="678.70" font-size="9.25" text-anchor="middle" fill="#1a1a1a" stroke="#1a1a1a" font-weight="normal" font-style="normal" transform="rotate(-90 14.4 678.7)" dominant-baseline="central">Epo (pg/mL)</text>
<text x="54.80" y="744.50" font-size="8.6" text-anchor="middle" fill="#1a1a1a" stroke="#1a1a1a" font-weight="normal" font-style="normal">WT</text>
<text x="73.60" y="744.50" font-size="8.6" text-anchor="middle" fill="#962a4c" stroke="#962a4c" font-weight="normal" font-style="italic">E12</text>
<text x="92.40" y="744.50" font-size="8.6" text-anchor="middle" fill="#4a5278" stroke="#4a5278" font-weight="normal" font-style="italic">VF</text>
<text x="181.80" y="621.30" font-size="10.2" text-anchor="start" fill="#1a1a1a" stroke="#1a1a1a" font-weight="normal" font-style="normal">Plasma Tpo levels</text>
<line x1="169.70" y1="631.00" x2="169.70" y2="729.70" stroke="#111" stroke-width="1.4"/>
<line x1="169.00" y1="729.00" x2="224.50" y2="729.00" stroke="#111" stroke-width="1.4"/>
<line x1="166.10" y1="633.81" x2="169.70" y2="633.81" stroke="#1a1a1a" stroke-width="1.1"/>
<text x="162.70" y="636.81" font-size="8.4" text-anchor="end" fill="#1a1a1a" stroke="#1a1a1a" font-weight="normal" font-style="normal">3000</text>
<line x1="166.10" y1="649.67" x2="169.70" y2="649.67" stroke="#1a1a1a" stroke-width="1.1"/>
<text x="162.70" y="652.67" font-size="8.4" text-anchor="end" fill="#1a1a1a" stroke="#1a1a1a" font-weight="normal" font-style="normal">2500</text>
<line x1="166.10" y1="665.54" x2="169.70" y2="665.54" stroke="#1a1a1a" stroke-width="1.1"/>
<text x="162.70" y="668.54" font-size="8.4" text-anchor="end" fill="#1a1a1a" stroke="#1a1a1a" font-weight="normal" font-style="normal">2000</text>
<line x1="166.10" y1="681.40" x2="169.70" y2="681.40" stroke="#1a1a1a" stroke-width="1.1"/>
<text x="162.70" y="684.40" font-size="8.4" text-anchor="end" fill="#1a1a1a" stroke="#1a1a1a" font-weight="normal" font-style="normal">1500</text>
<line x1="166.10" y1="697.27" x2="169.70" y2="697.27" stroke="#1a1a1a" stroke-width="1.1"/>
<text x="162.70" y="700.27" font-size="8.4" text-anchor="end" fill="#1a1a1a" stroke="#1a1a1a" font-weight="normal" font-style="normal">1000</text>
<line x1="166.10" y1="713.13" x2="169.70" y2="713.13" stroke="#1a1a1a" stroke-width="1.1"/>
<text x="162.70" y="716.13" font-size="8.4" text-anchor="end" fill="#1a1a1a" stroke="#1a1a1a" font-weight="normal" font-style="normal">500</text>
<line x1="166.10" y1="729.00" x2="169.70" y2="729.00" stroke="#1a1a1a" stroke-width="1.1"/>
<text x="162.70" y="732.00" font-size="8.4" text-anchor="end" fill="#1a1a1a" stroke="#1a1a1a" font-weight="normal" font-style="normal">0</text>
<line x1="180.70" y1="667.00" x2="180.70" y2="653.50" stroke="#111" stroke-width="1.25"/>
<line x1="177.70" y1="653.50" x2="183.70" y2="653.50" stroke="#111" stroke-width="1.4"/>
<rect x="175.90" y="667.40" width="9.60" height="61.60" fill="#111111" stroke="#000000" stroke-width="0.8"/>
<line x1="198.60" y1="697.90" x2="198.60" y2="685.20" stroke="#111" stroke-width="1.25"/>
<line x1="195.60" y1="685.20" x2="201.60" y2="685.20" stroke="#111" stroke-width="1.4"/>
<rect x="193.80" y="698.30" width="9.60" height="30.70" fill="#b90832" stroke="#8c0a28" stroke-width="0.8"/>
<line x1="216.70" y1="703.60" x2="216.70" y2="701.00" stroke="#111" stroke-width="1.25"/>
<line x1="213.70" y1="701.00" x2="219.70" y2="701.00" stroke="#111" stroke-width="1.4"/>
<rect x="211.90" y="704.00" width="9.60" height="25.00" fill="#2d5290" stroke="#1f3a68" stroke-width="0.8"/>
<line x1="183.60" y1="638.70" x2="215.00" y2="638.70" stroke="#151515" stroke-width="1.35"/>
<circle cx="195.15" cy="635.10" r="1.4" fill="#151515"/>
<circle cx="199.30" cy="635.10" r="1.4" fill="#151515"/>
<circle cx="203.45" cy="635.10" r="1.4" fill="#151515"/>
<line x1="182.70" y1="648.80" x2="202.90" y2="648.80" stroke="#151515" stroke-width="1.35"/>
<circle cx="190.73" cy="645.20" r="1.4" fill="#151515"/>
<circle cx="194.88" cy="645.20" r="1.4" fill="#151515"/>
<text x="136.00" y="680.00" font-size="9.4" text-anchor="middle" fill="#1a1a1a" stroke="#1a1a1a" font-weight="normal" font-style="normal" transform="rotate(-90 136.0 680.0)" dominant-baseline="central">Tpo (pg/mL)</text>
<text x="180.60" y="744.50" font-size="8.6" text-anchor="middle" fill="#1a1a1a" stroke="#1a1a1a" font-weight="normal" font-style="normal">WT</text>
<text x="198.60" y="744.50" font-size="8.6" text-anchor="middle" fill="#962a4c" stroke="#962a4c" font-weight="normal" font-style="italic">E12</text>
<text x="216.70" y="744.50" font-size="8.6" text-anchor="middle" fill="#4a5278" stroke="#4a5278" font-weight="normal" font-style="italic">VF</text>
<rect x="303.80" y="653.80" width="17.90" height="10.70" fill="#111111"/>
<rect x="303.80" y="668.80" width="17.90" height="10.40" fill="#b90832"/>
<rect x="303.80" y="683.80" width="17.90" height="10.40" fill="#2d5290"/>
<text x="326.00" y="662.60" font-size="7.6" text-anchor="start" fill="#111" stroke="#111" font-weight="bold" font-style="normal">WT</text>
<text x="326.00" y="676.90" font-size="8.05" text-anchor="start" fill="#a0143e" stroke="#a0143e" font-weight="normal" font-style="italic">MxCre;Ex12</text>
<text x="326.00" y="692.00" font-size="8.05" text-anchor="start" fill="#3c4678" stroke="#3c4678" font-weight="normal" font-style="italic">MxCre;V617F</text>
</svg></div></body></html>
